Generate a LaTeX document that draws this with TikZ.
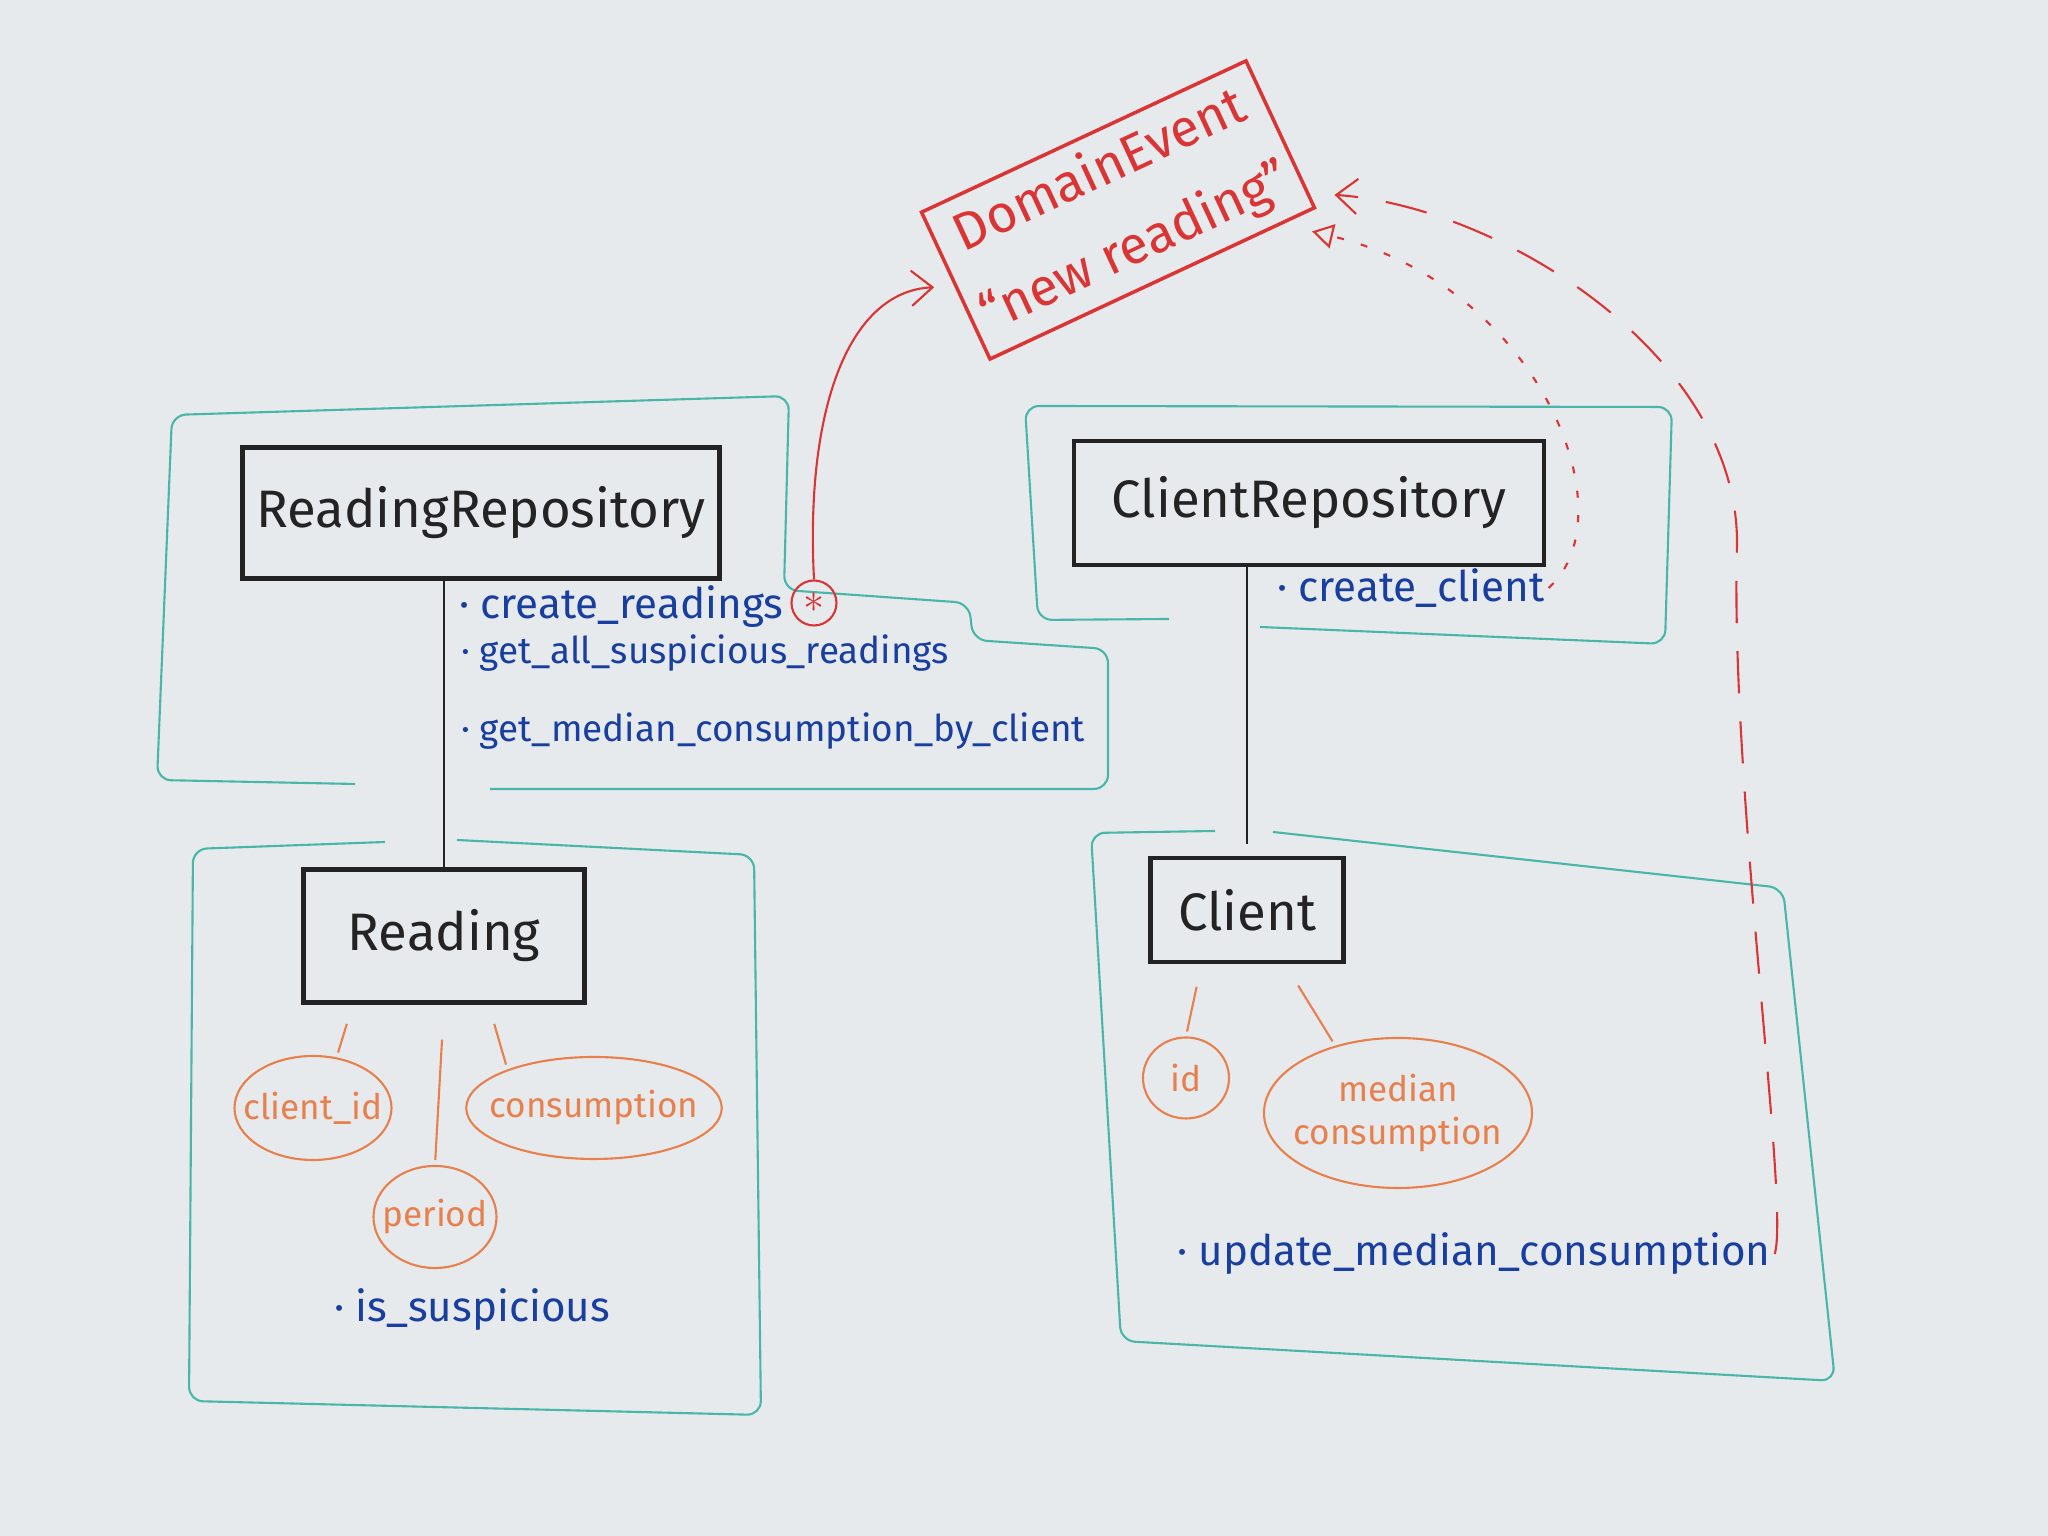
\documentclass[tikz,border=0pt]{standalone}
\usepackage{fontspec}
\setmainfont{Fira Sans}
\usepackage{tikz}
\usepackage{xcolor}
\usetikzlibrary{
    arrows.meta,
    shapes,
    shapes.geometric
}
\definecolor{boardgray}{RGB}{231,234,236}
\definecolor{markerteal}{RGB}{72,182,168}
\definecolor{markerblue}{RGB}{24,62,160}
\definecolor{markerorange}{RGB}{232,128,78}
\definecolor{markerred}{RGB}{218,52,52}
\definecolor{markerblack}{RGB}{35,35,35}

\tikzset{
    classbox/.style={draw=markerblack, line width=1.3pt, text=markerblack, font=\fontsize{15}{18}\selectfont},
    attr/.style={draw=markerorange, ellipse, semithick, text=markerorange, inner xsep=-4pt, inner ysep=1pt, font=\fontsize{10}{12}\selectfont},
    method/.style={anchor=west, text=markerblue, inner sep=1pt, font=\fontsize{12}{14}\selectfont},
    group/.style={draw=markerteal, semithick, rounded corners=4pt},
    attrline/.style={draw=markerorange, semithick, shorten <=0.2cm, shorten >=0.05cm}
}

\begin{document}
\begin{tikzpicture}
            \fill[boardgray] (0,0) rectangle (20.48,15.36);
            \useasboundingbox (0,0) rectangle (20.48,15.36);

            \draw[group] (3.55,7.52) -- (1.57,7.56) -- (1.72,11.21) -- (7.89,11.40) -- (7.84,9.46) -- (9.69,9.33) -- (9.73,8.96) -- (11.08,8.87) -- (11.08,7.47) -- (4.90,7.47);
            \draw[group] (11.69,9.17) -- (10.38,9.16) -- (10.25,11.30) -- (16.72,11.29) -- (16.65,8.92) -- (12.60,9.09);
            \draw[group] (3.85,6.94) -- (1.93,6.87) -- (1.89,1.35) -- (7.61,1.21) -- (7.54,6.81) -- (4.57,6.96);
            \draw[group] (12.15,7.05) -- (10.91,7.03) -- (11.21,1.95) -- (18.35,1.55) -- (17.83,6.48) -- (12.73,7.04);

            \node[classbox, minimum width=4.77cm, minimum height=1.31cm] (readrepo) at (4.81,10.23) {ReadingRepository};
            \node[classbox, minimum width=4.70cm, minimum height=1.24cm] (clientrepo) at (13.09,10.33) {ClientRepository};
            \node[classbox, minimum width=2.81cm, minimum height=1.33cm] (reading) at (4.44,6.00) {Reading};
            \node[classbox, minimum width=1.93cm, minimum height=1.04cm] (client) at (12.47,6.26) {Client};

            \node[draw=markerred, line width=1pt, text=markerred, rotate=25, minimum width=3.53cm, minimum height=1.62cm, align=center, font=\fontsize{15}{24}\selectfont] (event) at (11.18,13.26) {DomainEvent\\“new reading”};

            \node[method] (mcreate) at (4.55,9.29) {\textperiodcentered\ create\_readings};
            \node[method, font=\fontsize{10.5}{12}\selectfont] (mgetall) at (4.57,8.83) {\textperiodcentered\ get\_all\_suspicious\_readings};
            \node[method, font=\fontsize{10.5}{12}\selectfont] (mmedian) at (4.57,8.05) {\textperiodcentered\ get\_median\_consumption\_by\_client};
            \node[method] (mcreateclient) at (12.73,9.48) {\textperiodcentered\ create\_client};
            \node[method] (missusp) at (3.30,2.26) {\textperiodcentered\ is\_suspicious};
            \node[method] (mupdate) at (11.73,2.82) {\textperiodcentered\ update\_median\_consumption};

            \node[draw=markerred, circle, semithick, text=markerred, minimum size=0.45cm, inner sep=0pt] (star) at (8.14,9.33) {\large$\ast$};

            \node[attr, minimum width=1.57cm, minimum height=1.04cm] (clientid) at (3.13,4.28) {client\_id};
            \node[attr, minimum width=2.43cm, minimum height=1.02cm] (consumption) at (5.94,4.28) {consumption};
            \node[attr, minimum width=1.23cm, minimum height=1.02cm] (period) at (4.35,3.19) {period};
            \node[attr, minimum width=0.86cm, minimum height=0.81cm] (id) at (11.86,4.58) {id};
            \node[attr, minimum width=2.68cm, minimum height=1.50cm, align=center] (median) at (13.98,4.23) {median\\consumption};

            \draw[markerblack, thick] (readrepo.south -| reading.north) -- (reading.north);
            \draw[markerblack, thick] (clientrepo.south -| client.north) -- ([yshift=0.12cm]client.north);

            \draw[attrline] (reading.-143) -- (clientid.65);
            \draw[attrline, shorten <=0.35cm] (reading.south) -- (period.north);
            \draw[attrline] (reading.-57) -- (consumption.156);
            \draw[attrline, shorten <=0.23cm] (client.-130) -- (id.north);
            \draw[attrline, shorten <=0.25cm] (client.-55) -- (median.133);

            \draw[markerred, semithick, -{Straight Barb[length=6pt, width=10pt]}, shorten >=0.2cm] (star.north) .. controls (8.05,11.3) and (8.5,12.45) .. (event.west);
            \draw[markerred, semithick, dash pattern=on 2pt off 5pt, -{Triangle[open, length=6pt, width=7pt]}, shorten >=0.3cm] (mcreateclient.east) .. controls (16.3,10.2) and (15.4,12.5) .. (event.-30);
            \draw[markerred, semithick, dash pattern=on 12pt off 8pt, -{Straight Barb[length=6pt, width=10pt]}, shorten >=0.25cm] (mupdate.east) .. controls (17.9,3.3) and (17.3,7.5) .. (17.37,9.9) .. controls (17.4,11.8) and (15.0,13.3) .. (event.-20);
\end{tikzpicture}
\end{document}
